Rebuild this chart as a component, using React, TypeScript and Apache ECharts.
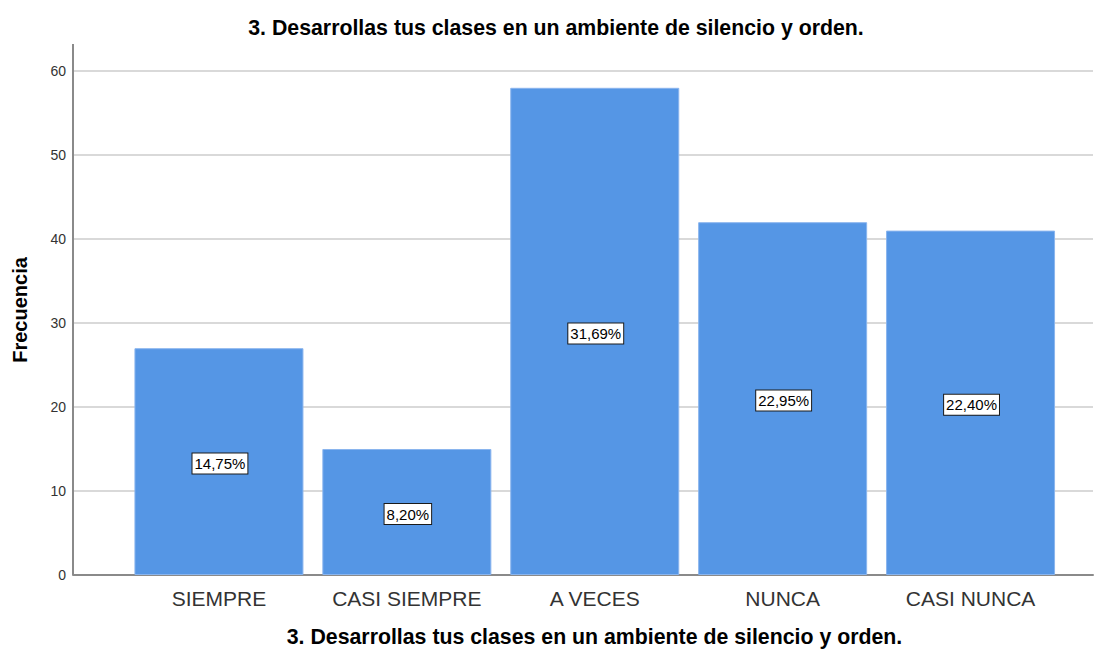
import React, { useEffect, useRef } from "react";
import * as echarts from "echarts";

const chartTitle = "3. Desarrollas tus clases en un ambiente de silencio y orden.";
const xAxisTitle = "3. Desarrollas tus clases en un ambiente de silencio y orden.";
const yAxisTitle = "Frecuencia";
const categories = ["SIEMPRE", "CASI SIEMPRE", "A VECES", "NUNCA", "CASI NUNCA"];
const frequencies = [27, 15, 58, 42, 41];
const percentLabels = ["14,75%", "8,20%", "31,69%", "22,95%", "22,40%"];
const yMin = 0;
const yMax = 60;
const yInterval = 10;

const W = 1105;
const H = 652;
const FONT = "Liberation Sans, Arial, sans-serif";

export default function App() {
  const ref = useRef<HTMLDivElement>(null);
  useEffect(() => {
    if (!ref.current) return;
    const chart = echarts.init(ref.current, undefined, { renderer: "svg" });
    const gridTop = 71;
    const gridBottom = 77;
    chart.setOption({
      animation: false,
      backgroundColor: "#ffffff",
      textStyle: { fontFamily: FONT },
      grid: [
        { left: 73, right: 12, top: gridTop, bottom: gridBottom, containLabel: false },
        { left: 125, right: 40.5, top: gridTop, bottom: gridBottom, containLabel: false },
      ],
      xAxis: [
        {
          type: "value",
          gridIndex: 0,
          min: 0,
          max: 1,
          axisLine: { show: true, lineStyle: { color: "#8a8a8a", width: 2 } },
          axisTick: { show: false },
          axisLabel: { show: false },
          splitLine: { show: false },
        },
        {
          type: "category",
          gridIndex: 1,
          data: categories,
          axisLine: { show: false },
          axisTick: { show: false },
          axisLabel: {
            interval: 0,
            hideOverlap: false,
            color: "#333333",
            fontSize: 21,
            fontFamily: FONT,
            margin: 13,
          },
        },
      ],
      yAxis: [
        {
          type: "value",
          gridIndex: 0,
          min: yMin,
          max: yMax,
          interval: yInterval,
          axisLine: { show: false },
          axisTick: { show: false },
          axisLabel: { color: "#333333", fontSize: 14, fontFamily: FONT, margin: 7 },
          splitLine: { show: true, lineStyle: { color: "#d9d9d9", width: 2 } },
        },
        {
          type: "value",
          gridIndex: 1,
          min: yMin,
          max: yMax,
          interval: yInterval,
          show: false,
        },
      ],
      series: [
        {
          type: "bar",
          xAxisIndex: 1,
          yAxisIndex: 1,
          data: frequencies,
          barWidth: 169,
          itemStyle: { color: "#5596e5", borderColor: "#8ab5ee", borderWidth: 1 },
          label: {
            show: true,
            position: "inside",
            offset: [1, 2],
            formatter: (p: any) => percentLabels[p.dataIndex],
            color: "#000000",
            fontSize: 15,
            fontFamily: FONT,
            backgroundColor: "#ffffff",
            borderColor: "#1a1a1a",
            borderWidth: 1,
            padding: [3, 2, 2, 2],
          },
        },
      ],
      graphic: [
        {
          type: "line",
          shape: { x1: 73, y1: 44, x2: 73, y2: H - gridBottom },
          style: { stroke: "#8a8a8a", lineWidth: 2 },
          z: 10,
        },
        {
          type: "text",
          x: 556,
          y: 28,
          style: {
            text: chartTitle,
            fontSize: 21.3,
            fontWeight: "bold",
            fontFamily: FONT,
            fill: "#000000",
            textAlign: "center",
            textVerticalAlign: "middle",
          },
        },
        {
          type: "text",
          x: 594.5,
          y: 637,
          style: {
            text: xAxisTitle,
            fontSize: 21.3,
            fontWeight: "bold",
            fontFamily: FONT,
            fill: "#000000",
            textAlign: "center",
            textVerticalAlign: "middle",
          },
        },
        {
          type: "text",
          x: 20,
          y: 310,
          rotation: Math.PI / 2,
          style: {
            text: yAxisTitle,
            fontSize: 20,
            fontWeight: "bold",
            fontFamily: FONT,
            fill: "#000000",
            textAlign: "center",
            textVerticalAlign: "middle",
          },
        },
      ],
    });
    return () => chart.dispose();
  }, []);
  return <div ref={ref} style={{ width: W, height: H, position: "absolute", left: 0, top: 0 }} />;
}
